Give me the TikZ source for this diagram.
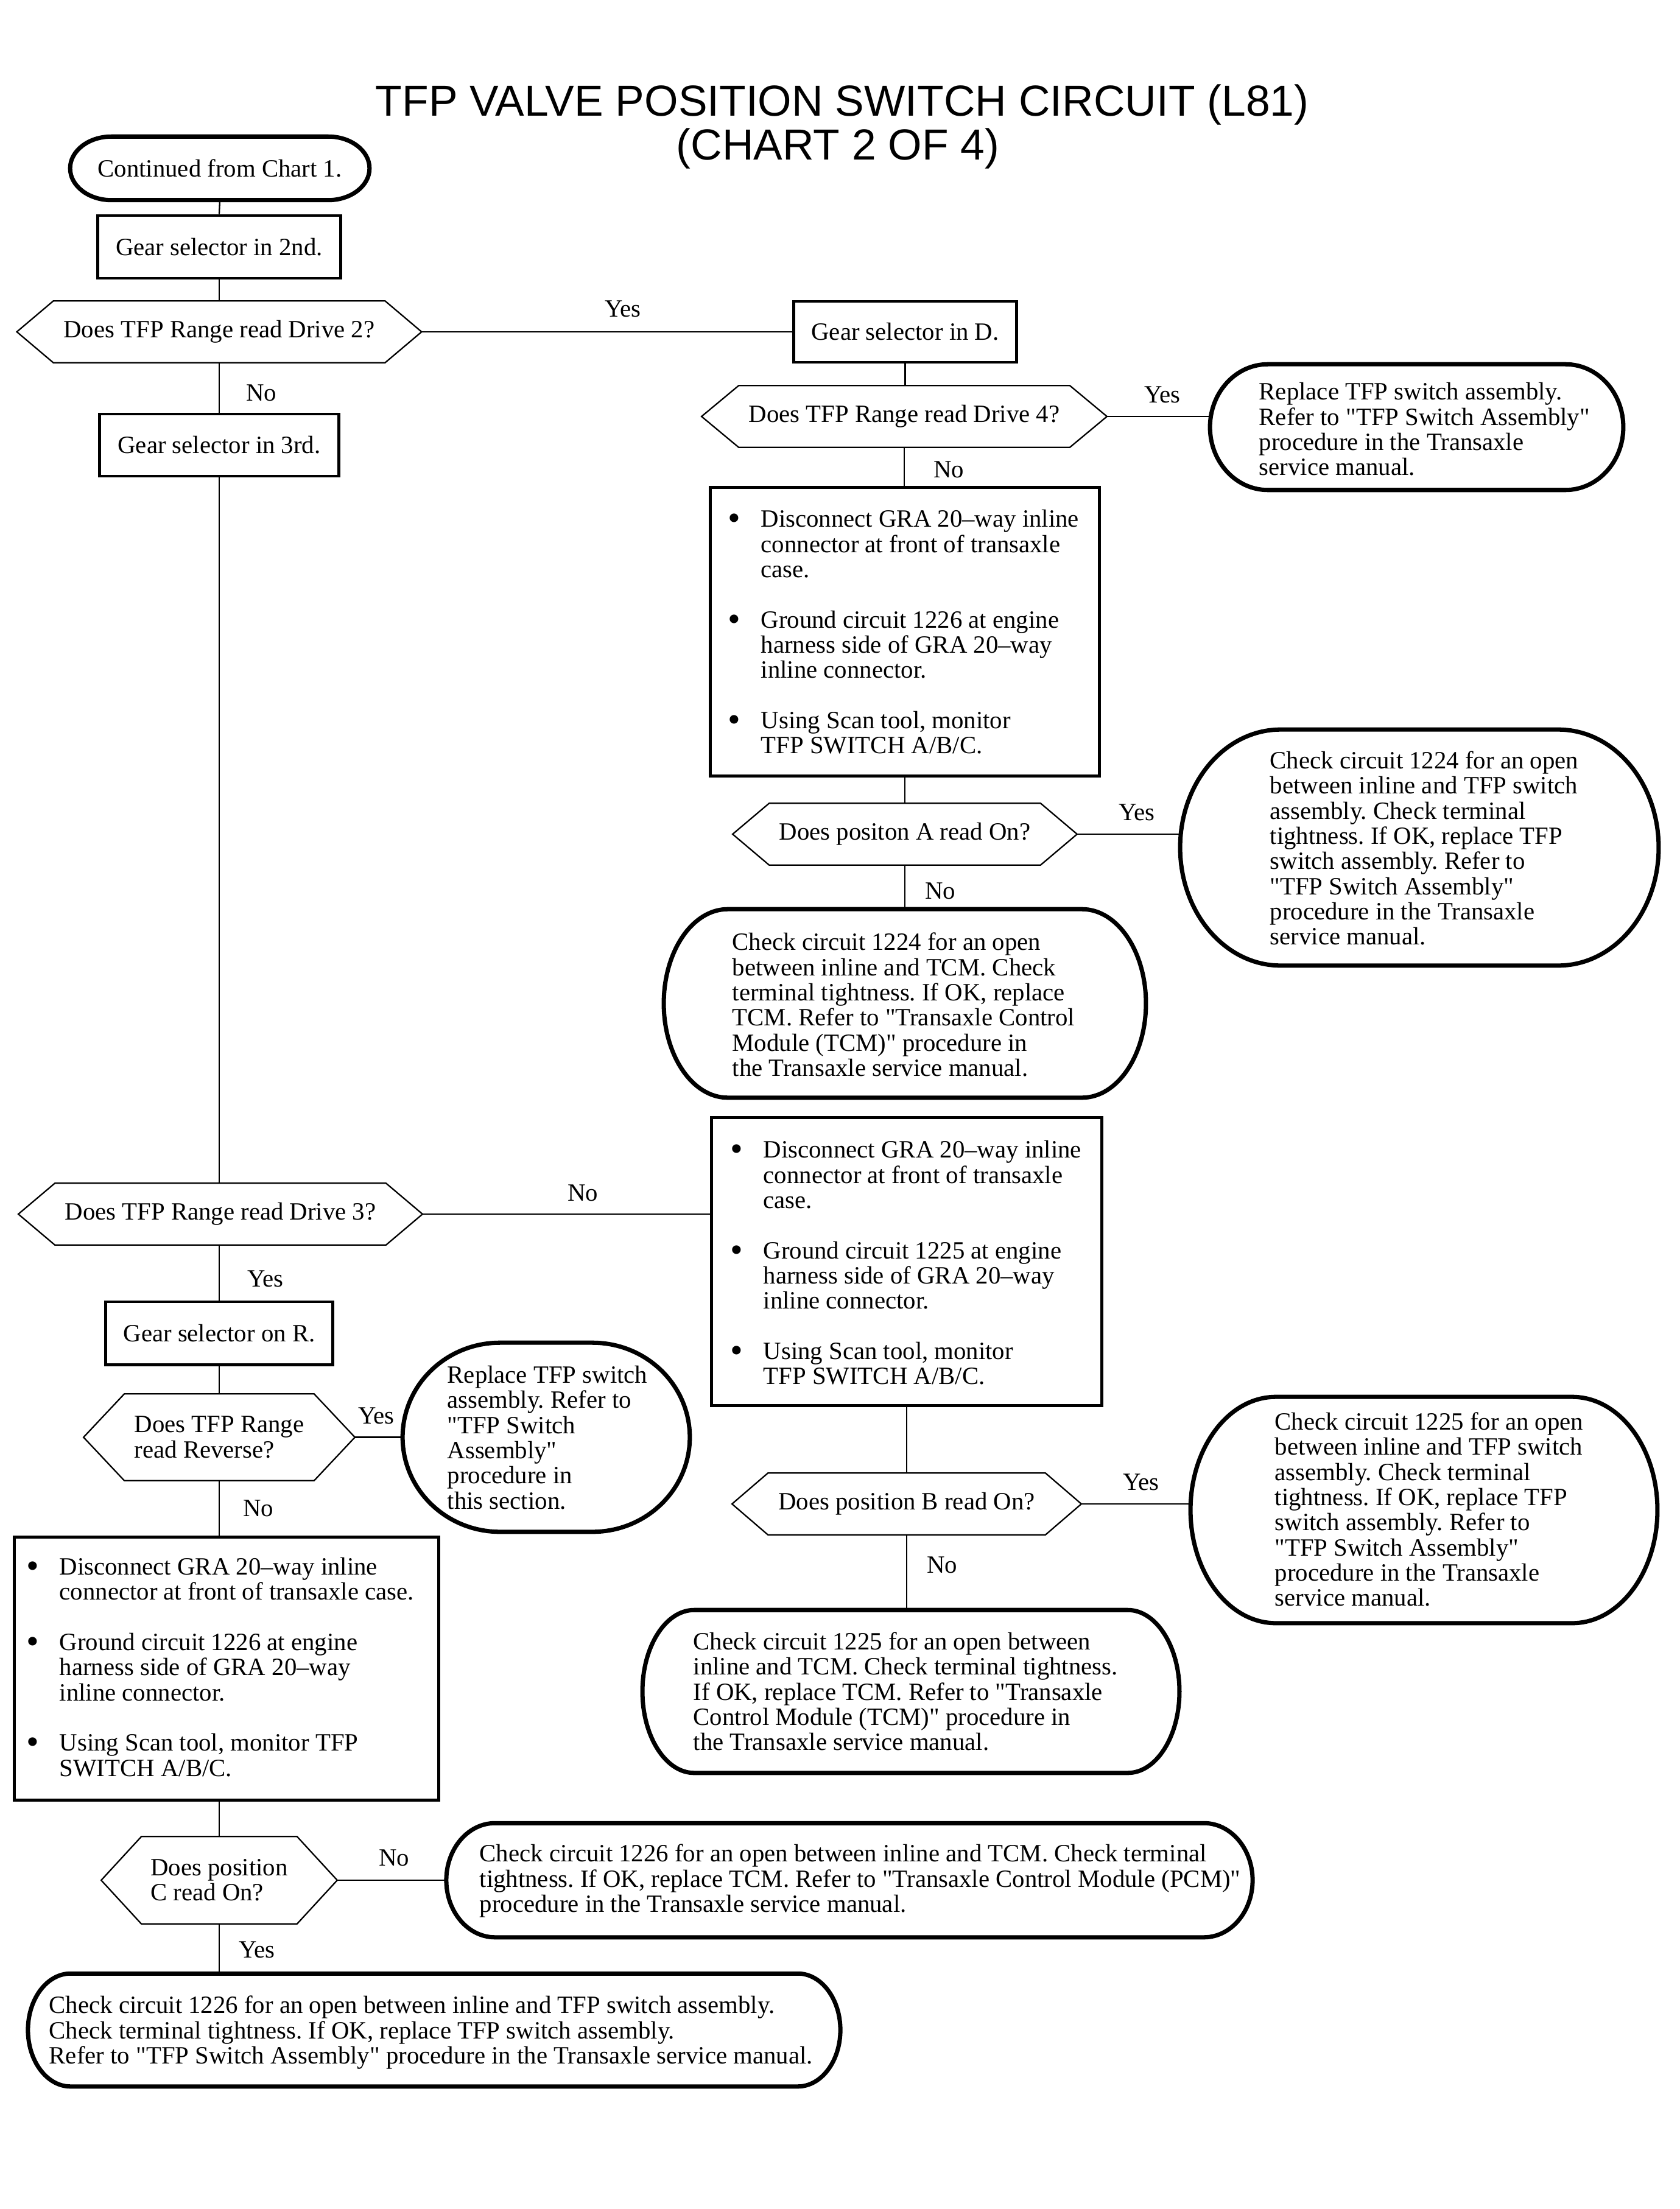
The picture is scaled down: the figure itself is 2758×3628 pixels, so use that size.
\documentclass[tikz,border=0pt]{standalone}
\usepackage{fontspec}
\setmainfont{Liberation Serif}[Ligatures=TeXOff]
\newfontfamily\titlefont{Liberation Sans}
\usetikzlibrary{calc}
\frenchspacing
\newcommand\bodyfont{\fontsize{11.6}{11.75}\selectfont}
\newcommand\blt{\makebox[0.53cm][l]{\hspace*{-0.04em}\raisebox{-0.12em}{\scalebox{1.45}{\textbullet}}}}
\newcommand\ind{\hspace*{0.53cm}}
\tikzset{
  thinline/.style={line width=0.65pt},
  conn/.style={thinline},
  termline/.style={line width=2pt, line join=round},
  rectbox/.style={draw, line width=1.4pt, rectangle, inner sep=0pt, font=\bodyfont},
  shapebox/.style={draw=none, rectangle, inner sep=0pt, font=\bodyfont, align=left},
  txt/.style={inner sep=0pt, align=left, anchor=west, font=\bodyfont},
  lbl/.style={inner sep=0pt, font=\bodyfont},
  titletxt/.style={inner sep=0pt, anchor=base, font=\titlefont\fontsize{20.3}{20.3}\selectfont},
}
% stadium outline with elliptical ends: #1 node, #2 end radius (px units)
\newcommand\termdraw[2]{%
  \draw[termline] ($(#1.north west)+(#2,0)$) -- ($(#1.north east)+(-#2,0)$)
   .. controls ($(#1.north east)+(-0.4477*#2,0)$) and ($(#1.east)!0.5523!(#1.north east)$) .. (#1.east)
   .. controls ($(#1.east)!0.5523!(#1.south east)$) and ($(#1.south east)+(-0.4477*#2,0)$) .. ($(#1.south east)+(-#2,0)$)
   -- ($(#1.south west)+(#2,0)$)
   .. controls ($(#1.south west)+(0.4477*#2,0)$) and ($(#1.west)!0.5523!(#1.south west)$) .. (#1.west)
   .. controls ($(#1.west)!0.5523!(#1.north west)$) and ($(#1.north west)+(0.4477*#2,0)$) .. cycle;}
% hexagon outline: #1 node, #2 tip inset (px units)
\newcommand\hexdraw[2]{%
  \draw[thinline] (#1.west) -- ($(#1.north west)+(#2,0)$) -- ($(#1.north east)+(-#2,0)$)
   -- (#1.east) -- ($(#1.south east)+(-#2,0)$) -- ($(#1.south west)+(#2,0)$) -- cycle;}
\begin{document}
\begin{tikzpicture}[x=0.01cm,y=-0.01cm]
\fill[white] (0,0) rectangle (2758,3628);
\useasboundingbox (0,0) rectangle (2758,3628);

% title
\node[titletxt] (title1) at (1383,191) {TFP VALVE POSITION SWITCH CIRCUIT (L81)};
\node[titletxt] (title2) at (1376,263) {(CHART 2 OF 4)};

% left column
\node[shapebox, minimum width=4.90cm, minimum height=1.03cm] (cont) at (361,276.5) {Continued from Chart 1.};
\node[rectbox, minimum width=3.99cm, minimum height=1.03cm] (g2) at (360,405.5) {Gear selector in 2nd.};
\node[shapebox, minimum width=6.63cm, minimum height=1.00cm] (hex2) at (360,545) {Does TFP Range read Drive 2?};
\node[rectbox, minimum width=3.93cm, minimum height=1.02cm] (g3) at (360,731) {Gear selector in 3rd.};
\node[shapebox, minimum width=6.62cm, minimum height=1.00cm] (hex3) at (362,1994) {Does TFP Range read Drive 3?};
\node[rectbox, minimum width=3.72cm, minimum height=1.03cm] (gR) at (360,2189.5) {Gear selector on R.};
\node[shapebox, minimum width=4.44cm, minimum height=1.41cm] (hexRev) at (360,2360.5) {Does TFP Range\\read Reverse?};
\node[shapebox, minimum width=4.70cm, minimum height=3.09cm] (repL) at (897,2360.5) {};
\node[txt] (repLt) at (734,2361) {Replace TFP switch\\assembly. Refer to\\"TFP Switch\\Assembly"\\procedure in\\this section.};
\node[rectbox, minimum width=6.96cm, minimum height=4.31cm] (bul3) at (372,2740.5) {};
\node[txt] (bul3t) at (44,2738) {\blt Disconnect GRA 20–way inline\\\ind connector at front of transaxle case.\\[11.75pt]\blt Ground circuit 1226 at engine\\\ind harness side of GRA 20–way\\\ind inline connector.\\[11.75pt]\blt Using Scan tool, monitor TFP\\\ind SWITCH A/B/C.};
\node[shapebox, minimum width=3.86cm, minimum height=1.42cm] (hexC) at (360,3088) {Does position\\C read On?};
\node[shapebox, minimum width=13.22cm, minimum height=1.86cm] (chkCtcm) at (1395,3088) {};
\node[txt] (chkCtcmt) at (787,3089) {Check circuit 1226 for an open between inline and TCM. Check terminal\\tightness. If OK, replace TCM. Refer to "Transaxle Control Module (PCM)"\\procedure in the Transaxle service manual.};
\node[shapebox, minimum width=13.32cm, minimum height=1.84cm] (chkCtfp) at (713,3334) {};
\node[txt] (chkCtfpt) at (80,3338) {Check circuit 1226 for an open between inline and TFP switch assembly.\\Check terminal tightness. If OK, replace TFP switch assembly.\\Refer to "TFP Switch Assembly" procedure in the Transaxle service manual.};

% right column
\node[rectbox, minimum width=3.65cm, minimum height=1.00cm] (gD) at (1486.5,545) {Gear selector in D.};
\node[shapebox, minimum width=6.64cm, minimum height=1.00cm] (hex4) at (1485,684) {Does TFP Range read Drive 4?};
\node[shapebox, minimum width=6.77cm, minimum height=2.05cm] (rep1) at (2326.5,701.5) {};
\node[txt] (rep1t) at (2067,705) {Replace TFP switch assembly.\\Refer to "TFP Switch Assembly"\\procedure in the Transaxle\\service manual.};
\node[rectbox, minimum width=6.38cm, minimum height=4.73cm] (bul1) at (1486,1037.5) {};
\node[txt] (bul1t) at (1196,1038) {\blt Disconnect GRA 20–way inline\\\ind connector at front of transaxle\\\ind case.\\[11.75pt]\blt Ground circuit 1226 at engine\\\ind harness side of GRA 20–way\\\ind inline connector.\\[11.75pt]\blt Using Scan tool, monitor\\\ind TFP SWITCH A/B/C.};
\node[shapebox, minimum width=5.64cm, minimum height=1.00cm] (hexA) at (1486,1370) {Does positon A read On?};
\node[shapebox, minimum width=7.84cm, minimum height=3.86cm] (chkAtfp) at (2331,1392) {};
\node[txt] (chkAtfpt) at (2085,1393) {Check circuit 1224 for an open\\between inline and TFP switch\\assembly. Check terminal\\tightness. If OK, replace TFP\\switch assembly. Refer to\\"TFP Switch Assembly"\\procedure in the Transaxle\\service manual.};
\node[shapebox, minimum width=7.90cm, minimum height=3.08cm] (chkAtcm) at (1486,1648) {};
\node[txt] (chkAtcmt) at (1202,1650) {Check circuit 1224 for an open\\between inline and TCM. Check\\terminal tightness. If OK, replace\\TCM. Refer to "Transaxle Control\\Module (TCM)" procedure in\\the Transaxle service manual.};
\node[rectbox, minimum width=6.40cm, minimum height=4.72cm] (bul2) at (1489,2072) {};
\node[txt] (bul2t) at (1200,2074) {\blt Disconnect GRA 20–way inline\\\ind connector at front of transaxle\\\ind case.\\[11.75pt]\blt Ground circuit 1225 at engine\\\ind harness side of GRA 20–way\\\ind inline connector.\\[11.75pt]\blt Using Scan tool, monitor\\\ind TFP SWITCH A/B/C.};
\node[shapebox, minimum width=5.72cm, minimum height=1.00cm] (hexB) at (1489,2470) {Does position B read On?};
\node[shapebox, minimum width=7.65cm, minimum height=3.70cm] (chkBtfp) at (2338.5,2480) {};
\node[txt] (chkBtfpt) at (2093,2479) {Check circuit 1225 for an open\\between inline and TFP switch\\assembly. Check terminal\\tightness. If OK, replace TFP\\switch assembly. Refer to\\"TFP Switch Assembly"\\procedure in the Transaxle\\service manual.};
\node[shapebox, minimum width=8.80cm, minimum height=2.66cm] (chkBtcm) at (1496,2778) {};
\node[txt] (chkBtcmt) at (1138,2778) {Check circuit 1225 for an open between\\inline and TCM. Check terminal tightness.\\If OK, replace TCM. Refer to "Transaxle\\Control Module (TCM)" procedure in\\the Transaxle service manual.};

% outlines
\termdraw{cont}{68}
\termdraw{rep1}{95}
\termdraw{chkAtfp}{165}
\termdraw{chkAtcm}{105}
\termdraw{chkBtfp}{140}
\termdraw{chkBtcm}{85}
\termdraw{repL}{160}
\termdraw{chkCtcm}{80}
\termdraw{chkCtfp}{70}
\hexdraw{hex2}{60}
\hexdraw{hex3}{60}
\hexdraw{hex4}{61}
\hexdraw{hexA}{60}
\hexdraw{hexB}{59}
\hexdraw{hexRev}{67}
\hexdraw{hexC}{66}

% connectors
\draw[conn] (cont.south) -- (g2.north);
\draw[conn] (g2.south) -- (hex2.north);
\draw[conn] (hex2.east) -- (gD.west);
\draw[conn] (hex2.south) -- (g3.north);
\draw[conn] (gD.south) -- (gD.south |- hex4.north);
\draw[conn] (hex4.east) -- (hex4.east -| rep1.west);
\draw[conn] (hex4.south) -- (hex4.south |- bul1.north);
\draw[conn] (bul1.south) -- (bul1.south |- hexA.north);
\draw[conn] (hexA.east) -- (hexA.east -| chkAtfp.west);
\draw[conn] (hexA.south) -- (hexA.south |- chkAtcm.north);
\draw[conn] (g3.south) -- (g3.south |- hex3.north);
\draw[conn] (hex3.east) -- (hex3.east -| bul2.west);
\draw[conn] (hex3.south -| gR.north) -- (gR.north);
\draw[conn] (gR.south) -- (hexRev.north);
\draw[conn] (hexRev.east) -- (repL.west);
\draw[conn] (hexRev.south) -- (hexRev.south |- bul3.north);
\draw[conn] (bul2.south) -- (bul2.south |- hexB.north);
\draw[conn] (hexB.east) -- (hexB.east -| chkBtfp.west);
\draw[conn] (hexB.south) -- (hexB.south |- chkBtcm.north);
\draw[conn] (bul3.south -| hexC.north) -- (hexC.north);
\draw[conn] (hexC.east) -- (hexC.east -| chkCtcm.west);
\draw[conn] (hexC.south) -- (hexC.south |- chkCtfp.north);

% labels
\node[lbl] (l1) at (1023,507) {Yes};
\node[lbl] (l2) at (429,645) {No};
\node[lbl] (l3) at (1909,648) {Yes};
\node[lbl] (l4) at (1558,771) {No};
\node[lbl] (l5) at (1867,1334) {Yes};
\node[lbl] (l6) at (1544,1463) {No};
\node[lbl] (l7) at (957,1959) {No};
\node[lbl] (l8) at (436,2100) {Yes};
\node[lbl] (l9) at (618,2325) {Yes};
\node[lbl] (l10) at (424,2477) {No};
\node[lbl] (l11) at (1874,2434) {Yes};
\node[lbl] (l12) at (1547,2570) {No};
\node[lbl] (l13) at (647,3051) {No};
\node[lbl] (l14) at (422,3202) {Yes};
\end{tikzpicture}
\end{document}
